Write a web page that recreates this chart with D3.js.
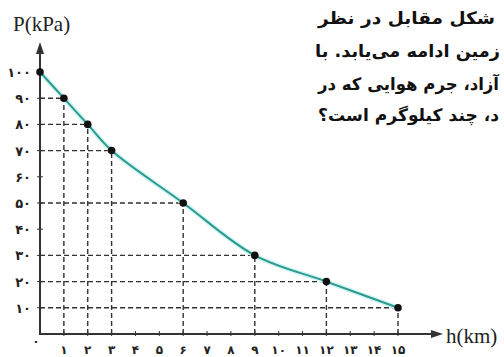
<!DOCTYPE html>
<html>
<head>
<meta charset="utf-8">
<script src="https://cdn.jsdelivr.net/npm/d3@7"></script>
<style>
  body { margin: 0; background: #fff; }
  svg { display: block; }
</style>
</head>
<body>
<svg id="chart"></svg>
<script>
// data
const heights = [0, 1, 2, 3, 6, 9, 12, 15]
const pressures = [100, 90, 80, 70, 50, 30, 20, 10]
const xTicks = [1, 2, 3, 4, 5, 6, 7, 8, 9, 10, 11, 12, 13, 14, 15]
const yTicks = [10, 20, 30, 40, 50, 60, 70, 80, 90, 100]
const textLines = [
  'شکل مقابل در نظر',
  'زمین ادامه می‌یابد. با',
  'آزاد، جرم هوایی که در',
  'د، چند کیلوگرم است؟'
]

const width = 504
const height = 357
const fa = n => String(n).replace(/\d/g, c => '۰۱۲۳۴۵۶۷۸۹'[c])

const svg = d3.select('#chart')
    .attr('width', width)
    .attr('height', height)

// question text on the right, lines end on the left (justified box)
const lineX = [318, 315, 318, 318]
const lineW = [177, 185, 181, 181]
const lineY = [24, 57, 90, 121]
svg.append('g').selectAll('text')
    .data(textLines)
    .enter()
    .append('text')
    .attr('x', (d, i) => lineX[i])
    .attr('y', (d, i) => lineY[i])
    .attr('direction', 'rtl')
    .attr('text-anchor', 'end')
    .attr('textLength', (d, i) => lineW[i])
    .attr('lengthAdjust', 'spacingAndGlyphs')
    .attr('font-family', 'DejaVu Sans')
    .attr('font-weight', 'bold')
    .attr('font-size', 17)
    .attr('fill', '#111')
    .text(d => d)

const x = d3.scaleLinear().domain([0, 15]).range([40, 398])
const y = d3.scaleLinear().domain([0, 100]).range([334, 72])

const pts = heights.map((h, i) => ({h: h, p: pressures[i]}))

// dashed guides
const guides = svg.append('g')
    .attr('stroke', '#333')
    .attr('stroke-width', 1.4)
    .attr('stroke-dasharray', '5,3')
guides.selectAll('.hg')
    .data(pts.filter(d => d.h > 0))
    .enter()
    .append('line')
    .attr('x1', x(0))
    .attr('x2', d => x(d.h))
    .attr('y1', d => y(d.p))
    .attr('y2', d => y(d.p))
guides.selectAll('.vg')
    .data(pts.filter(d => d.h > 0))
    .enter()
    .append('line')
    .attr('x1', d => x(d.h))
    .attr('x2', d => x(d.h))
    .attr('y1', y(0))
    .attr('y2', d => y(d.p))

// curve
const line = d3.line()
    .x(d => x(d.h))
    .y(d => y(d.p))
    .curve(d3.curveCatmullRom.alpha(0.5))
svg.append('path')
    .datum(pts)
    .attr('d', line)
    .attr('fill', 'none')
    .attr('stroke', '#d4f4f4')
    .attr('stroke-width', 5)
svg.append('path')
    .datum(pts)
    .attr('d', line)
    .attr('fill', 'none')
    .attr('stroke', '#2b9b8e')
    .attr('stroke-width', 2)

// axes
const axes = svg.append('g').attr('stroke', '#333').attr('stroke-width', 2)
axes.append('line')
    .attr('x1', x(0)).attr('x2', x(0))
    .attr('y1', y(0) + 1).attr('y2', 52)
axes.append('line')
    .attr('x1', x(0) - 1).attr('x2', 434)
    .attr('y1', y(0)).attr('y2', y(0))
svg.append('path')
    .attr('d', `M${x(0)},42 L${x(0) - 4},54 L${x(0) + 4},54 Z`)
    .attr('fill', '#333')
svg.append('path')
    .attr('d', `M443,${y(0)} L431,${y(0) - 4} L431,${y(0) + 4} Z`)
    .attr('fill', '#333')

// ticks
axes.selectAll('.xt')
    .data(xTicks)
    .enter()
    .append('line')
    .attr('stroke-width', 1)
    .attr('x1', d => x(d)).attr('x2', d => x(d))
    .attr('y1', y(0) - 3).attr('y2', y(0) + 2)
axes.selectAll('.yt')
    .data(yTicks)
    .enter()
    .append('line')
    .attr('stroke-width', 1)
    .attr('x1', x(0) - 3).attr('x2', x(0) + 3)
    .attr('y1', d => y(d)).attr('y2', d => y(d))

// dots
svg.selectAll('circle.dot')
    .data(pts)
    .enter()
    .append('circle')
    .attr('class', 'dot')
    .attr('cx', d => x(d.h))
    .attr('cy', d => y(d.p))
    .attr('r', 3.8)
    .attr('fill', '#111')

// tick labels
svg.selectAll('.xl')
    .data(xTicks)
    .enter()
    .append('text')
    .attr('x', d => x(d))
    .attr('y', 354)
    .attr('text-anchor', 'middle')
    .attr('font-family', 'DejaVu Sans')
    .attr('font-weight', 'bold')
    .attr('font-size', 12)
    .attr('fill', '#222')
    .text(d => fa(d))
svg.selectAll('.yl')
    .data(yTicks)
    .enter()
    .append('text')
    .attr('x', 31)
    .attr('y', d => y(d) + 5)
    .attr('text-anchor', 'end')
    .attr('font-family', 'DejaVu Sans')
    .attr('font-weight', 'bold')
    .attr('font-size', 13)
    .attr('fill', '#222')
    .text(d => fa(d))
svg.append('text')
    .attr('x', 36).attr('y', 345)
    .attr('text-anchor', 'middle')
    .attr('font-family', 'DejaVu Sans')
    .attr('font-weight', 'bold')
    .attr('font-size', 12)
    .attr('fill', '#222')
    .text(fa(0))

// axis titles
svg.append('text')
    .attr('x', 13).attr('y', 31)
    .attr('font-family', 'Liberation Serif')
    .attr('font-size', 21)
    .attr('fill', '#222')
    .text('P(kPa)')
svg.append('text')
    .attr('x', 446).attr('y', 343)
    .attr('font-family', 'Liberation Serif')
    .attr('font-size', 21)
    .attr('fill', '#222')
    .text('h(km)')
</script>
</body>
</html>
